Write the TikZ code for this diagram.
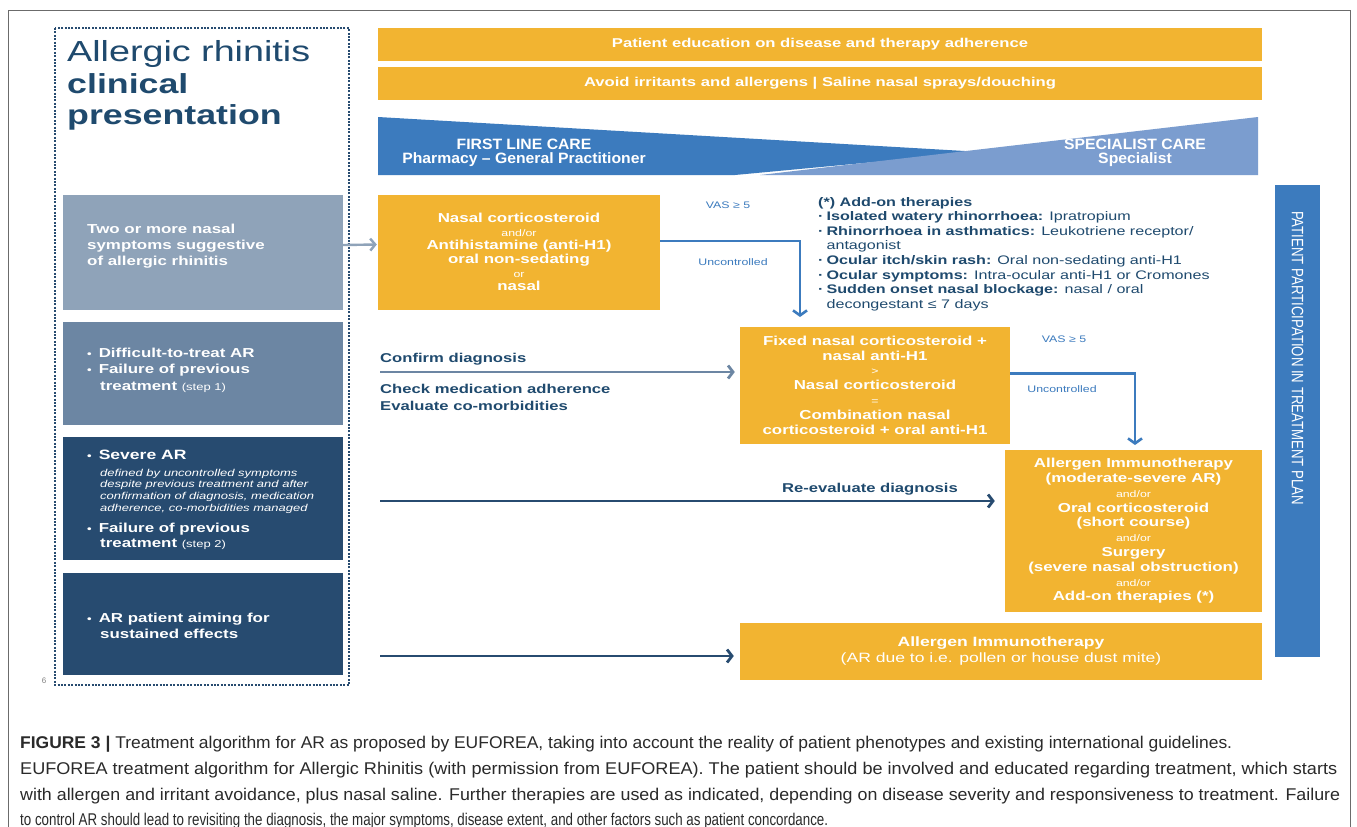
\documentclass[tikz,border=0pt]{standalone}
\usepackage{fontspec}
\usepackage{graphicx}
\usetikzlibrary{arrows.meta}
\setmainfont{Liberation Sans}
\newfontfamily\wf{Liberation Sans}[FakeStretch=1.3]
\newfontfamily\bandf{Liberation Sans}[FakeStretch=1.05]
\newfontfamily\narrowf{Liberation Sans}[FakeStretch=0.8]
\newcommand{\setfs}[2]{\fontsize{#1}{#2}\selectfont}
\newcommand{\fitw}[2]{\resizebox{#1}{\height}{#2}}
\newcommand{\smalltxt}[1]{{\mdseries\setfs{9.5}{10}#1}}
\newcommand{\dotb}{\textbf{·}\hspace{3pt}}
\newcommand{\lbul}{{\setfs{10}{10}•}\hspace{7pt}}

\definecolor{gold}{HTML}{F2B431}
\definecolor{navy}{HTML}{274B70}
\definecolor{slate}{HTML}{6C86A3}
\definecolor{pale}{HTML}{8FA3B9}
\definecolor{mid}{HTML}{3C7BBE}
\definecolor{lightmid}{HTML}{7B9DCF}
\definecolor{ink}{HTML}{1F4A6E}
\definecolor{framegray}{HTML}{6B6B6B}
\definecolor{captxt}{HTML}{2A2A2A}

\tikzset{
  banner/.style={fill=gold, minimum width=884pt, minimum height=33pt, text=white,
    font={\wf\bfseries\setfs{12.8}{14}}},
  gbox/.style={fill=gold, text=white, align=center, font={\wf\bfseries\setfs{13}{14.8}}},
  lbox/.style={minimum width=280pt},
  ltxt/.style={anchor=base west, text=white, font={\wf\bfseries\setfs{13}{15}}},
  itxt/.style={anchor=base west, text=white, font={\wf\itshape\setfs{10}{11}}},
  inktxt/.style={anchor=base west, text=ink, font={\wf\bfseries\setfs{12.8}{15}}},
  titletxt/.style={anchor=base west, text=ink},
  bandtxt/.style={text=white, font={\bandf\bfseries\setfs{15}{15}}},
  lbl/.style={text=mid, font={\wf\setfs{9.5}{10}}},
  captxtstyle/.style={anchor=base west, text=captxt, font={\setfs{17}{17}}},
  elbow/.style={draw=mid, line width=2.6pt, -{Straight Barb[length=5pt,width=14pt]}},
  palearrow/.style={draw=pale, line width=2.4pt, -{Straight Barb[length=5pt,width=12pt]}},
  slatearrow/.style={draw=slate, line width=2.8pt, -{Straight Barb[length=5pt,width=13pt]}},
  navyarrow/.style={draw=navy, line width=2.8pt, -{Straight Barb[length=5pt,width=13pt]}}
}

\begin{document}
\begin{tikzpicture}[x=1pt, y=-1pt, every node/.style={inner sep=0pt}]
\useasboundingbox (0,0) rectangle (1357,827);
\fill[white] (0,0) rectangle (1357,827);

% outer frame (open at the bottom)
\draw[framegray, line width=1pt] (8,827) -- (8,10) -- (1350,10) -- (1350,827);

% dotted panel holding the clinical presentations
\draw[navy, line width=1.1pt, dash pattern=on 2pt off 1.4pt] (55,28) rectangle (349,685);
\node[text=gray, font={\setfs{8}{8}}] (pagenum) at (44,681) {6};

% title
\node[titletxt, font={\wf\setfs{29}{30}}] (title1) at (67,61) {Allergic rhinitis};
\node[titletxt, font={\wf\bfseries\setfs{27.5}{30}}] (title2) at (67,93) {clinical};
\node[titletxt, font={\wf\bfseries\setfs{27.5}{30}}] (title3) at (67,124) {presentation};

% top banners
\node[banner] (edu) at (820,44.5) {Patient education on disease and therapy adherence};
\node[banner] (avoid) at (820,83.5) {Avoid irritants and allergens | Saline nasal sprays/douching};

% care level wedges
\fill[mid] (378,117) -- (982,152) -- (735,175) -- (378,175) -- cycle;
\fill[lightmid] (760,175) -- (1258,117) -- (1258,175) -- cycle;
\node[bandtxt] (flc1) at (524,144) {FIRST LINE CARE};
\node[bandtxt] (flc2) at (524,160) {Pharmacy – General Practitioner};
\node[bandtxt] (sc1) at (1135,144) {SPECIALIST CARE};
\node[bandtxt] (sc2) at (1135,160) {Specialist};

% patient participation bar
\node[fill=mid, minimum width=45pt, minimum height=472pt] (bar) at (1297.5,421) {};
\node[rotate=-90, text=white, font={\narrowf\setfs{16.5}{16}}] (bartxt) at (1297.5,358)
  {PATIENT PARTICIPATION IN TREATMENT PLAN};

% clinical presentation boxes
\node[lbox, fill=pale, minimum height=115pt] (p1) at (203,252.5) {};
\node[ltxt] (p1a) at (87,233) {Two or more nasal};
\node[ltxt] (p1b) at (87,249) {symptoms suggestive};
\node[ltxt] (p1c) at (87,265) {of allergic rhinitis};

\node[lbox, fill=slate, minimum height=103pt] (p2) at (203,373.5) {};
\node[ltxt] (p2a) at (87,357) {\lbul Difficult-to-treat AR};
\node[ltxt] (p2b) at (87,373) {\lbul Failure of previous};
\node[ltxt] (p2c) at (100,390) {treatment {\mdseries\setfs{10}{10}(step 1)}};

\node[lbox, fill=navy, minimum height=123pt] (p3) at (203,498.5) {};
\node[ltxt, font={\wf\bfseries\setfs{13.5}{15}}] (p3a) at (87,459) {\lbul Severe AR};
\node[itxt] (p3b) at (100,476) {defined by uncontrolled symptoms};
\node[itxt] (p3c) at (100,487) {despite previous treatment and after};
\node[itxt] (p3d) at (100,499) {confirmation of diagnosis, medication};
\node[itxt] (p3e) at (100,511) {adherence, co-morbidities managed};
\node[ltxt] (p3f) at (87,532) {\lbul Failure of previous};
\node[ltxt] (p3g) at (100,547) {treatment {\mdseries\setfs{10}{10}(step 2)}};

\node[lbox, fill=navy, minimum height=102pt] (p4) at (203,624) {};
\node[ltxt] (p4a) at (87,622) {\lbul AR patient aiming for};
\node[ltxt] (p4b) at (100,638) {sustained effects};

% treatment steps
\node[gbox, minimum width=282pt, minimum height=115pt, font={\wf\bfseries\setfs{13}{13.6}}] (stepA) at (519,252)
  {Nasal corticosteroid\\ \smalltxt{and/or}\\ Antihistamine (anti-H1)\\ oral non-sedating\\ \smalltxt{or}\\ nasal};

\node[gbox, minimum width=270pt, minimum height=117pt] (stepB) at (875,385)
  {Fixed nasal corticosteroid +\\ nasal anti-H1\\ \smalltxt{>}\\ Nasal corticosteroid\\ \smalltxt{=}\\ Combination nasal\\ corticosteroid + oral anti-H1};

\node[gbox, minimum width=257pt, minimum height=162pt] (stepC) at (1133.5,531)
  {Allergen Immunotherapy\\ (moderate-severe AR)\\ \smalltxt{and/or}\\ Oral corticosteroid\\ (short course)\\ \smalltxt{and/or}\\ Surgery\\ (severe nasal obstruction)\\ \smalltxt{and/or}\\ Add-on therapies (*)};

\node[gbox, minimum width=522pt, minimum height=57pt, font={\wf\bfseries\setfs{13.5}{16}}] (stepD) at (1001,651.5)
  {Allergen Immunotherapy\\ {\mdseries (AR due to i.e. pollen or house dust mite)}};

% add-on therapies list
\node[anchor=north west, align=left, text=ink, font={\wf\setfs{12.4}{14.6}}] (addon) at (818,197)
  {\textbf{(*) Add-on therapies}\\
   \dotb\textbf{Isolated watery rhinorrhoea:} Ipratropium\\
   \dotb\textbf{Rhinorrhoea in asthmatics:} Leukotriene receptor/\\
   \phantom{\dotb}antagonist\\
   \dotb\textbf{Ocular itch/skin rash:} Oral non-sedating anti-H1\\
   \dotb\textbf{Ocular symptoms:} Intra-ocular anti-H1 or Cromones\\
   \dotb\textbf{Sudden onset nasal blockage:} nasal / oral\\
   \phantom{\dotb}decongestant ≤ 7 days};

% escalation connectors
\coordinate (drop1) at (800,317);
\draw[elbow] ([yshift=11pt]stepA.east) -| (drop1);
\node[lbl] (vas1) at (728,205) {VAS ≥ 5};
\node[lbl] (unc1) at (733,262) {Uncontrolled};

\coordinate (drop2) at (1135,445);
\draw[elbow] ([yshift=11.5pt]stepB.east) -| (drop2);
\node[lbl] (vas2) at (1064,339) {VAS ≥ 5};
\node[lbl] (unc2) at (1062,389) {Uncontrolled};

% entry connectors
\draw[palearrow] ([yshift=7.5pt]p1.east) -- ([yshift=7.5pt, xshift=-1pt]stepA.west);

\coordinate (cstart) at (380,372);
\draw[slatearrow, shorten >=5pt] (cstart) -- (stepB.west |- cstart);
\node[inktxt] (conf) at (380,362) {Confirm diagnosis};
\node[inktxt] (check) at (380,393) {Check medication adherence};
\node[inktxt] (eval) at (380,410) {Evaluate co-morbidities};

\coordinate (rstart) at (380,501);
\draw[navyarrow, shorten >=10pt] (rstart) -- (stepC.west |- rstart);
\node[inktxt, anchor=base] (reeval) at (870,492) {Re-evaluate diagnosis};

\coordinate (sstart) at (380,656);
\draw[navyarrow, shorten >=6pt] (sstart) -- (stepD.west |- sstart);

% caption
\node[captxtstyle] (cap1) at (20,748) {\fitw{1212pt}{\textbf{FIGURE 3 |} Treatment algorithm for AR as proposed by EUFOREA, taking into account the reality of patient phenotypes and existing international guidelines.}};
\node[captxtstyle] (cap2) at (20,774) {\fitw{1317pt}{EUFOREA treatment algorithm for Allergic Rhinitis (with permission from EUFOREA). The patient should be involved and educated regarding treatment, which starts}};
\node[captxtstyle] (cap3) at (20,800) {\fitw{1320pt}{with allergen and irritant avoidance, plus nasal saline. Further therapies are used as indicated, depending on disease severity and responsiveness to treatment. Failure}};
\node[captxtstyle] (cap4) at (20,825) {\fitw{808pt}{to control AR should lead to revisiting the diagnosis, the major symptoms, disease extent, and other factors such as patient concordance.}};
\end{tikzpicture}
\end{document}
